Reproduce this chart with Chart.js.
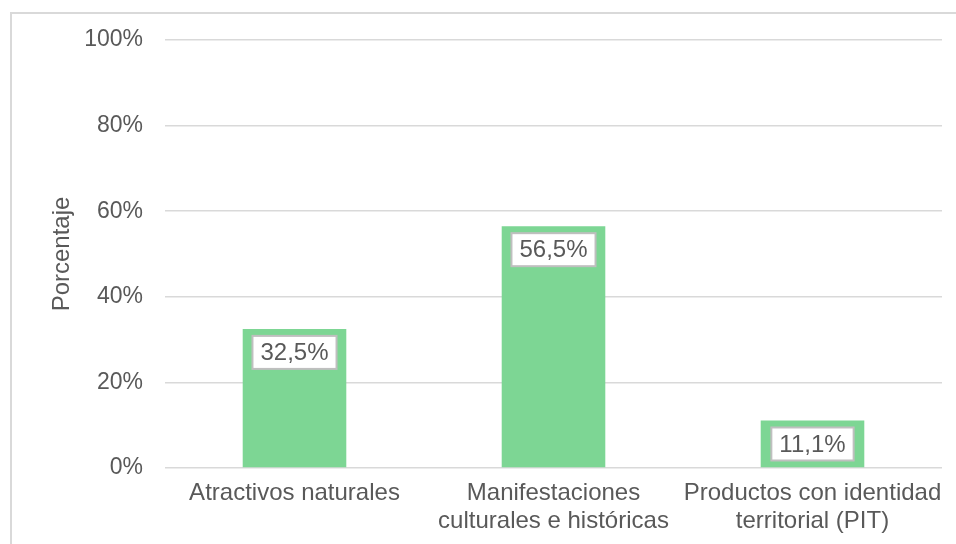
<!DOCTYPE html>
<html>
<head>
<meta charset="utf-8">
<script src="https://cdn.jsdelivr.net/npm/chart.js@4/dist/chart.umd.min.js"></script>
<style>
    html, body { margin: 0; padding: 0; background: #fff; overflow: hidden; }
    #frame {
        position: absolute; left: 10px; top: 12px;
        width: 1000px; height: 600px;
        border: 2px solid #d9d9d9; box-sizing: border-box;
    }
    #wrap { position: absolute; left: 0; top: 0; width: 956px; height: 544px; }
</style>
</head>
<body>
<div id="frame"></div>
<div id="wrap"><canvas id="chart" width="956" height="544"></canvas></div>
<script>
// Tipos de atractivo turístico
const categories = [
    ['Atractivos naturales'],
    ['Manifestaciones', 'culturales e históricas'],
    ['Productos con identidad', 'territorial (PIT)']
];
const percentages = [32.5, 56.5, 11.1];
const yTicks = [0, 20, 40, 60, 80, 100];

const FONT = "'Liberation Sans', Arial, sans-serif";
const TEXT_COLOR = '#595959';

function formatPct(v) {
    return v.toFixed(1).replace('.', ',') + '%';
}

// White boxed value labels placed just inside the top of each bar
const boxedLabels = {
    id: 'boxedLabels',
    afterDatasetsDraw(chart) {
        const ctx = chart.ctx;
        const meta = chart.getDatasetMeta(0);
        ctx.save();
        ctx.font = '24px ' + FONT;
        ctx.textAlign = 'center';
        ctx.textBaseline = 'middle';
        meta.data.forEach((bar, i) => {
            const text = formatPct(percentages[i]);
            const w = ctx.measureText(text).width + 16;
            const h = 33;
            const x = bar.x - w / 2;
            const y = bar.y + 7;
            ctx.fillStyle = '#ffffff';
            ctx.fillRect(x, y, w, h);
            ctx.lineWidth = 2;
            ctx.strokeStyle = '#bfbfbf';
            ctx.strokeRect(x, y, w, h);
            ctx.fillStyle = TEXT_COLOR;
            ctx.fillText(text, bar.x, y + h / 2 + 1);
        });
        ctx.restore();
    }
};

const ctx = document.getElementById('chart').getContext('2d');
const chart = new Chart(ctx, {
    type: 'bar',
    data: {
        labels: categories,
        datasets: [{
            data: percentages,
            backgroundColor: '#7dd694',
            borderWidth: 0,
            categoryPercentage: 1,
            barPercentage: 0.4
        }]
    },
    options: {
        responsive: false,
        animation: false,
        layout: { padding: { left: 0, right: 14, top: 40, bottom: 0 } },
        plugins: {
            legend: { display: false },
            tooltip: { enabled: false }
        },
        scales: {
            x: {
                afterFit(scale) { scale.height = 76; },
                grid: { display: false, drawTicks: false },
                border: { display: false },
                ticks: {
                    color: TEXT_COLOR,
                    font: { family: FONT, size: 24, lineHeight: 1.15 },
                    padding: 12,
                    maxRotation: 0,
                    autoSkip: false
                }
            },
            y: {
                min: 0,
                max: 100,
                afterFit(scale) { scale.width = 165; },
                afterBuildTicks(scale) {
                    scale.ticks = yTicks.map(v => ({ value: v }));
                },
                grid: { color: '#d9d9d9', lineWidth: 1.5, drawTicks: false },
                border: { display: false },
                ticks: {
                    color: TEXT_COLOR,
                    font: { family: FONT, size: 23 },
                    padding: 22,
                    callback: v => v + '%'
                },
                title: {
                    display: true,
                    text: 'Porcentaje',
                    color: TEXT_COLOR,
                    font: { family: FONT, size: 24 },
                    padding: { top: 48, bottom: 0 }
                }
            }
        }
    },
    plugins: [boxedLabels]
});
</script>
</body>
</html>
